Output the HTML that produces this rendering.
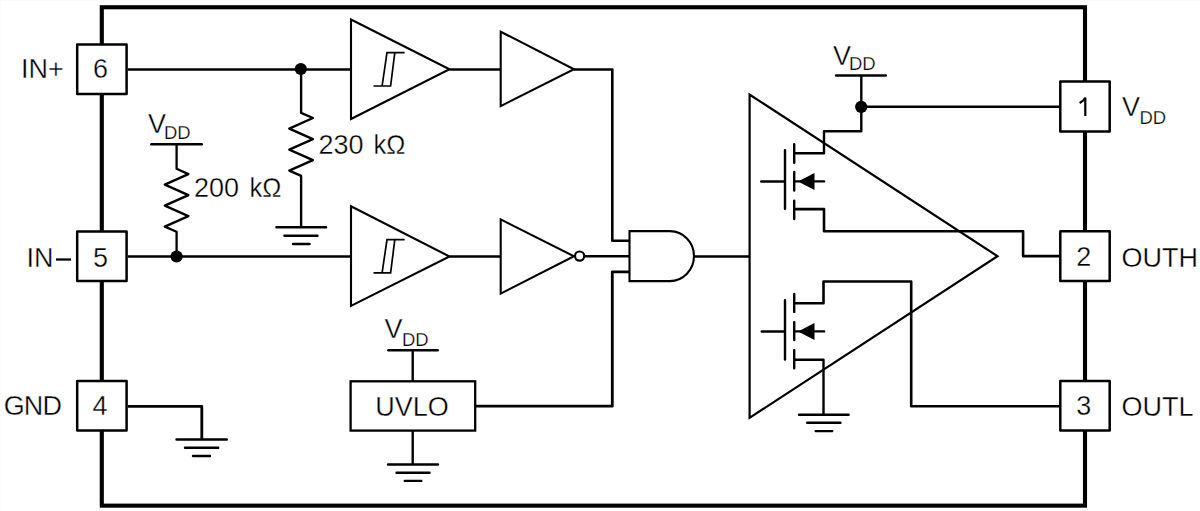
<!DOCTYPE html>
<html><head><meta charset="utf-8"><title>Functional Block Diagram</title>
<style>
html,body{margin:0;padding:0;background:#fff;width:1200px;height:511px;overflow:hidden}
svg{display:block}
text{font-family:"Liberation Sans",sans-serif;fill:#000}
.t{font-size:27px;stroke:#fff;stroke-width:0.35px}
.s{font-size:18.5px;stroke:#fff;stroke-width:0.25px}
</style></head><body>
<svg width="1200" height="511" viewBox="0 0 1200 511">
<rect x="0" y="0" width="1200" height="1" fill="#fbfbfb"/><rect x="0" y="0" width="1" height="511" fill="#fbfbfb"/>
<g fill="none" stroke="#000" stroke-width="2.4" stroke-linejoin="miter">
<!-- frame -->
<rect x="101.8" y="7.25" width="983.2" height="498.4" stroke-width="4.1"/>

<!-- IN+ wire -->
<path d="M128 69.5H351"/>
<!-- 230k resistor -->
<path d="M301.1 69V112.8L312.9 118.0L289.3 128.6L312.9 139.1L289.3 149.6L312.9 160.1L289.3 170.6L301.1 175.8V227" stroke-linejoin="round" stroke-width="2.4"/>
<path d="M276.4 227.3H326.1M284.4 235.7H317.5M293 244H309.6" stroke-linecap="round"/>

<!-- schmitt 1 -->
<path d="M351 19.5V119L449.5 69.3Z" stroke-width="2.1"/>
<path d="M373.5 86H390.6L394.8 52.7H404.6M382.1 86L387 52.7H394.8" stroke-width="1.7"/>
<path d="M449.5 69.5H500.7"/>
<!-- buffer 1 -->
<path d="M500.7 31.7V106.1L574 69.3Z" stroke-width="2.1"/>
<path d="M574 69.5H612.3V240.7H629.5" stroke-width="2.6" stroke-linejoin="round"/>

<!-- IN- wire -->
<path d="M128 256.5H351"/>
<!-- 200k resistor -->
<path d="M151.4 144.2H201.8" stroke-linecap="round"/>
<path d="M176.6 144V168.8L188.4 174.1L164.8 184.6L188.4 195.1L164.8 205.6L188.4 216.1L164.8 226.6L176.6 231.8V256.5" stroke-linejoin="round" stroke-width="2.3"/>

<!-- schmitt 2 -->
<path d="M351 206.3V305.9L449.5 256.5Z" stroke-width="2.1"/>
<path d="M373.5 272.9H390.6L394.8 239.7H404.6M382.1 272.9L387 239.7H394.8" stroke-width="1.7"/>
<path d="M449.5 256.5H500.7"/>
<!-- buffer 2 -->
<path d="M500.7 219.4V293.6L574 256.3Z" stroke-width="2.1"/>
<circle cx="579.6" cy="256.1" r="4.6" stroke-width="2.2"/>
<path d="M584.2 256.2H629.5"/>

<!-- AND gate -->
<path d="M629.5 231.1H670A24 25 0 0 1 670 281.1H629.5Z" stroke-width="2.1"/>
<path d="M695 256.5H749.6"/>

<!-- UVLO -->
<rect x="350.6" y="381.3" width="124.6" height="49.3" stroke-width="2.3"/>
<path d="M388.4 350.2H437.7" stroke-linecap="round"/>
<path d="M412.7 350.2V381.3M412.7 430.6V464.5"/>
<path d="M388 464.5H438M396.5 472.7H429.5M404.8 480.9H421.3" stroke-linecap="round"/>
<path d="M475.2 406.2H612.3V271.8H629.5" stroke-width="2.8" stroke-linejoin="round"/>

<!-- GND wire -->
<path d="M128 406.3H201.8V439.5" stroke-width="2.8" stroke-linejoin="round"/>
<path d="M176.5 439.5H226.8M185 447.7H218.2M193 456H210" stroke-linecap="round"/>

<!-- big driver triangle -->
<path d="M749.6 94.6V417.8L997.5 256.2Z" stroke-width="2.2"/>

<!-- top MOSFET -->
<g stroke-linecap="round">
<path d="M785 150.1V208.7M761.2 181.5H785"/>
<path d="M794.2 144.2V162.7M794.2 172V190.6M794.2 200.7V219"/>
<path d="M794.2 181.4H824.1"/>
</g>
<path d="M798 181.5L814.5 173V190Z" fill="#000" stroke="none"/>
<path d="M794.2 153.2H824V131.3H861.3V75.6" stroke-linejoin="round"/>
<path d="M836.1 75.5H885.8" stroke-linecap="round"/>
<path d="M861.3 106.7H1060.5" stroke-width="2.6"/>
<path d="M794.2 209.1H824V231.2H1023.1V256.1H1060.5" stroke-width="2.6" stroke-linejoin="round"/>

<!-- bottom MOSFET -->
<g stroke-linecap="round">
<path d="M785 300.2V359.6M761.7 331.5H785"/>
<path d="M794.2 293.9V311.9M794.2 322.1V340M794.2 350.1V368.2"/>
<path d="M794.2 331.4H824.1"/>
</g>
<path d="M798 331.5L814.5 323V340Z" fill="#000" stroke="none"/>
<path d="M794.2 303.3H823.5V281.5H911.2V406.2H1060.5" stroke-width="2.6" stroke-linejoin="round"/>
<path d="M794.2 359.7H823.5V414.7" stroke-linejoin="round"/>
<path d="M799 414.7H848.6M807.2 422.7H840.5M815.7 431.1H832.2" stroke-linecap="round"/>
</g>

<!-- dots -->
<g fill="#000">
<circle cx="300.8" cy="69" r="6.1"/>
<circle cx="176.6" cy="256.5" r="6.1"/>
<circle cx="861.2" cy="106.9" r="6.1"/>
</g>

<!-- pin boxes -->
<g fill="#fff" stroke="#000" stroke-width="2.5" stroke-linejoin="round">
<rect x="77.2" y="44.6" width="49.4" height="49.4"/>
<rect x="77.2" y="231.4" width="49.4" height="49.7"/>
<rect x="77.2" y="381" width="49.4" height="49.4"/>
<rect x="1060.3" y="81.6" width="49.4" height="49.9"/>
<rect x="1060.3" y="231.3" width="49.4" height="49.8"/>
<rect x="1060.3" y="381" width="49.4" height="49.4"/>
</g>

<!-- text -->
<path d="M1079.6 102.9C1082 101.7 1084.4 99.8 1085.3 97.6V115.9" fill="none" stroke="#000" stroke-width="2.2"/>
<path d="M56 259.5H71" stroke="#000" stroke-width="2.3"/>
<g class="t">
<text x="21" y="78">IN+</text>
<text x="100.5" y="78" text-anchor="middle">6</text>
<text x="26.5" y="266.5">IN</text>
<text x="100.5" y="266.5" text-anchor="middle">5</text>
<text x="3.7" y="415.2" letter-spacing="-0.9">GND</text>
<text x="100" y="415" text-anchor="middle">4</text>
<text x="1083.8" y="266.3" text-anchor="middle">2</text>
<text x="1083.8" y="415" text-anchor="middle">3</text>
<text x="1121.5" y="266.5">OUTH</text>
<text x="1121.5" y="415.5">OUTL</text>
<text x="318.5" y="153.8">230</text><text transform="translate(373.5 153.8) scale(0.95 1)">kΩ</text>
<text x="194" y="197">200</text><text transform="translate(249.5 197) scale(0.95 1)">kΩ</text>
<text x="375.2" y="415.5">UVLO</text>
<text x="1122" y="116.2">V</text>
<text x="148" y="133">V</text>
<text x="833" y="64.5">V</text>
<text x="384.4" y="338.2">V</text>
</g>
<g class="s">
<text x="1139.5" y="123.8">DD</text>
<text x="164" y="138.5">DD</text>
<text x="849" y="70.3">DD</text>
<text x="402" y="345.6">DD</text>
</g>
</svg>
</body></html>
